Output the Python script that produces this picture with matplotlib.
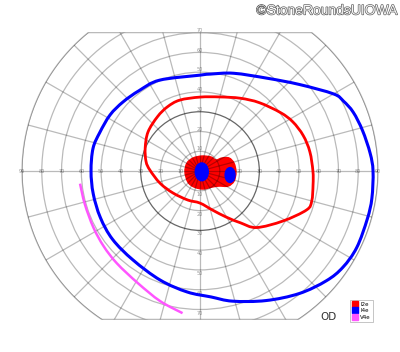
import numpy as np
import matplotlib
matplotlib.use("Agg")
import matplotlib.pyplot as plt
from matplotlib.patches import Polygon, Ellipse, PathPatch
from matplotlib.path import Path
from matplotlib.lines import Line2D
import matplotlib.patheffects as pe

# Goldmann isopters: meridian (deg) and eccentricity (deg)
i4e_mer = [0, 6, 14, 21, 26, 30, 41, 54, 71, 84, 90, 114, 127, 138, 148, 159, 168, 180,
           192, 205, 218, 233, 250, 264, 275, 284, 297, 309, 319, 326, 334, 344, 351]
i4e_ecc = [87.5, 86.5, 84.7, 83, 80.7, 78, 66.7, 58, 52.3, 49.3, 48.5, 50.3, 51, 52.3, 53.6, 54.3, 55.3, 55.1,
           55.2, 55.6, 56.1, 56.3, 58.7, 61.5, 63.9, 67.8, 73.5, 79.7, 84.6, 87.1, 88.2, 88, 88]

i2e_mer = [0, 10, 19, 28, 36, 49, 61, 75, 90, 106, 117, 128, 143, 157, 170, 179,
           197, 219, 247, 270, 288, 300, 308, 315, 329, 340, 345, 353]
i2e_ecc = [57.1, 56.4, 55.2, 53.1, 50.3, 45.8, 42.1, 38.8, 37.4, 37.3, 36.4, 34.9, 32.9, 30.1, 27.7, 25.3,
           21.1, 17.6, 15.9, 16.2, 20.8, 27, 33.2, 40.4, 49, 57.4, 58.5, 57.6]

v4e_mer = [186, 196, 208, 218, 228, 241, 253, 263]
v4e_ecc = [61, 60.6, 61, 61.8, 62.8, 64.8, 68.8, 72.4]

# I2e scotoma outline (x, y in degrees)
scot_x = [-7.6, -6.6, -3.5, 1.0, 5.6, 8.1, 11.1, 14.7, 17.2, 18.2, 17.2, 14.2, 9.6, 6.1, 1.5, -3.0, -6.1]
scot_y = [-0.5, 4.0, 6.6, 7.6, 7.1, 5.6, 6.6, 6.6, 4.0, -0.5, -5.1, -7.6, -7.6, -8.1, -9.1, -8.1, -5.6]

# I4e scotomas (ellipses)
i4e_sc_x = [0.9, 15.2]
i4e_sc_y = [-0.4, -2.0]
i4e_sc_w = [6.6, 5.0]
i4e_sc_h = [9.0, 7.5]

rings = [10, 20, 30, 40, 50, 60, 70, 80, 90]
meridians = np.arange(0, 360, 15)


def to_xy(mer, ecc):
    t = np.radians(mer)
    return np.array(ecc) * np.cos(t), np.array(ecc) * np.sin(t)


def smooth_path(x, y, closed=False):
    # Catmull-Rom curve through the points, drawn as cubic Beziers
    p = np.column_stack([x, y])
    n = len(p)
    if closed:
        get = lambda i: p[i % n]
        segs = n
    else:
        get = lambda i: p[min(max(i, 0), n - 1)]
        segs = n - 1
    verts = [p[0]]
    codes = [Path.MOVETO]
    for i in range(segs):
        p0, p1, p2, p3 = get(i - 1), get(i), get(i + 1), get(i + 2)
        verts += [p1 + (p2 - p0) / 6, p2 - (p3 - p1) / 6, p2]
        codes += [Path.CURVE4] * 3
    return Path(verts, codes)


fig = plt.figure(figsize=(4, 3.52), dpi=100)
ax = fig.add_axes([0, 0, 1, 1])
ax.set_xlim(-101.1, 101.1)
ax.set_ylim(-91.5, 86.5)
ax.set_aspect('equal')
ax.axis('off')

# field boundary: 90 deg circle cut at 70 sup / 75 inf
tt = np.linspace(0, 2 * np.pi, 721)
bx = 90 * np.cos(tt)
by = np.clip(90 * np.sin(tt), -75, 70)
field = Polygon(np.column_stack([bx, by]), closed=True, fill=False,
                edgecolor='black', alpha=0.27, lw=0.9, zorder=2)
ax.add_patch(field)

# scotoma fill (under grid)
ax.add_patch(PathPatch(smooth_path(scot_x, scot_y, closed=True),
                       facecolor='#ff0000', edgecolor='#ff0000', lw=1, zorder=1))

# grid
for r in rings:
    a = 0.6 if r == 30 else 0.27
    c = plt.Circle((0, 0), r, fill=False, color='black', alpha=a, lw=0.9, zorder=2)
    ax.add_patch(c)
    c.set_clip_path(field)
for m in meridians:
    ln, = ax.plot([0, 95 * np.cos(np.radians(m))], [0, 95 * np.sin(np.radians(m))],
                  color='black', alpha=0.27, lw=0.9, zorder=2)
    ln.set_clip_path(field)

# ring labels
for r in rings:
    for s in (-1, 1):
        ax.text(s * r, 0, str(r), fontsize=3.5, color='#999999',
                ha='center', va='center', zorder=0.5)
    if r <= 70:
        ax.text(0, r + 1.2, str(r), fontsize=3.5, color='#999999',
                ha='center', va='center', zorder=0.5)
        ax.text(0, -r - 1.8, str(r), fontsize=3.5, color='#999999',
                ha='center', va='center', zorder=0.5)

# I4e scotomas
for x, y, w, h in zip(i4e_sc_x, i4e_sc_y, i4e_sc_w, i4e_sc_h):
    ax.add_patch(Ellipse((x, y), w, h, facecolor='#0000ff', edgecolor='#0000ff', zorder=3))

# isopters
x, y = to_xy(i4e_mer, i4e_ecc)
ax.add_patch(PathPatch(smooth_path(x, y, closed=True), fill=False,
                       edgecolor='#0000ff', lw=2.2, zorder=4))
x, y = to_xy(i2e_mer, i2e_ecc)
ax.add_patch(PathPatch(smooth_path(x, y, closed=True), fill=False,
                       edgecolor='#ff0000', lw=2.0, zorder=4))
x, y = to_xy(v4e_mer, v4e_ecc)
ax.add_patch(PathPatch(smooth_path(x, y), fill=False,
                       edgecolor='#ff55ff', lw=1.8, zorder=4))

# legend
handles = [Line2D([], [], marker='s', ls='', color=c, markersize=4.3)
           for c in ['#ff0000', '#0000ff', '#ff55ff']]
leg = ax.legend(handles, ['I2e', 'I4e', 'V4e'], loc='lower right',
                bbox_to_anchor=(0.932, 0.086), borderaxespad=0, fontsize=4,
                labelspacing=0.25, handletextpad=0.4, borderpad=0.35,
                handlelength=1.0, fancybox=False, edgecolor='#aaaaaa')
leg.get_frame().set_linewidth(0.6)

ax.text(0.8225, 0.100, 'OD', transform=ax.transAxes, fontsize=7.5,
        color='#333333', ha='center', va='center')

t = ax.text(0.994, 0.99, '\u00a9StoneRoundsUIOWA', transform=ax.transAxes,
            fontsize=10, family='Liberation Sans', color='#f4f4f4', ha='right', va='top')
t.set_path_effects([pe.Stroke(linewidth=0.9, foreground='#555555'), pe.Normal()])

fig.savefig('out.png', dpi=100)
